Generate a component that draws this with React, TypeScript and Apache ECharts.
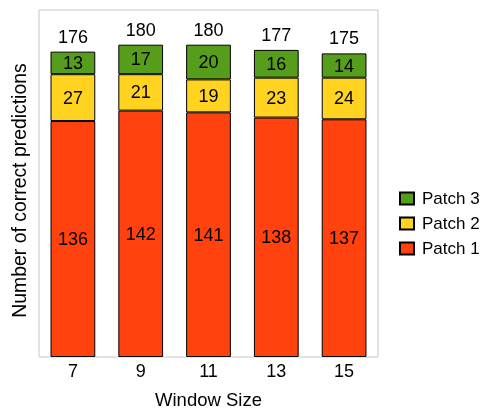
import React, { useEffect, useRef } from "react";
import * as echarts from "echarts";

const categories = ["7", "9", "11", "13", "15"];
const patch1 = [136, 142, 141, 138, 137];
const patch2 = [27, 21, 19, 23, 24];
const patch3 = [13, 17, 20, 16, 14];
const totals = [176, 180, 180, 177, 175];

const FONT = "Liberation Sans";

export default function App() {
  const ref = useRef<HTMLDivElement>(null);
  useEffect(() => {
    if (!ref.current) return;
    document.body.style.margin = "0";
    document.body.style.overflow = "hidden";
    const chart = echarts.init(ref.current, undefined, { renderer: "svg" });
    const inner = {
      show: true,
      position: "inside" as const,
      color: "#000",
      fontSize: 18,
      fontFamily: FONT,
    };
    chart.setOption({
      animation: false,
      textStyle: { fontFamily: FONT },
      grid: {
        left: 39,
        right: 108,
        top: 10,
        bottom: 52,
        show: true,
        borderColor: "#c8c8c8",
        borderWidth: 1,
        outerBoundsMode: "none",
        containLabel: false,
      },
      legend: {
        orient: "vertical",
        left: 399,
        top: 190,
        padding: 0,
        itemWidth: 14,
        itemHeight: 12,
        itemGap: 8,
        data: ["Patch 3", "Patch 2", "Patch 1"],
        textStyle: { fontSize: 17, color: "#000", fontFamily: FONT, padding: [0, 0, 0, 3] },
        icon: "rect",
      },
      xAxis: {
        type: "category",
        data: categories,
        axisLine: { show: false },
        axisTick: { show: false },
        axisLabel: { color: "#000", fontSize: 18, margin: 5, fontFamily: FONT },
        name: "Window Size",
        nameLocation: "middle",
        nameGap: 33,
        nameTextStyle: { color: "#000", fontSize: 18.5, fontFamily: FONT },
      },
      yAxis: {
        type: "value",
        min: 0,
        max: 200,
        axisLine: { show: false },
        axisTick: { show: false },
        axisLabel: { show: false },
        splitLine: { show: false },
        name: "Number of correct predictions",
        nameLocation: "middle",
        nameGap: 11,
        nameTextStyle: {
          color: "#000",
          fontSize: 19.4,
          fontFamily: FONT,
          padding: [0, 14, 0, 0],
        },
      },
      series: [
        {
          name: "Patch 1",
          type: "bar",
          stack: "s",
          barWidth: "66%",
          data: patch1,
          itemStyle: { color: "#ff420e", borderColor: "#000", borderWidth: 1 },
          label: inner,
        },
        {
          name: "Patch 2",
          type: "bar",
          stack: "s",
          data: patch2,
          itemStyle: { color: "#ffd320", borderColor: "#000", borderWidth: 1 },
          label: inner,
        },
        {
          name: "Patch 3",
          type: "bar",
          stack: "s",
          data: patch3,
          itemStyle: { color: "#579d1c", borderColor: "#000", borderWidth: 1 },
          label: inner,
        },
        {
          name: "Total",
          type: "bar",
          stack: "s",
          data: totals.map(() => 0),
          itemStyle: { color: "transparent", borderWidth: 0 },
          label: {
            show: true,
            position: "top",
            distance: 6,
            color: "#000",
            fontSize: 18,
            fontFamily: FONT,
            formatter: (p: any) => String(totals[p.dataIndex]),
          },
        },
      ],
    });
    return () => chart.dispose();
  }, []);
  return (
    <div
      ref={ref}
      style={{ position: "fixed", left: 0, top: 0, width: 486, height: 409 }}
    />
  );
}
